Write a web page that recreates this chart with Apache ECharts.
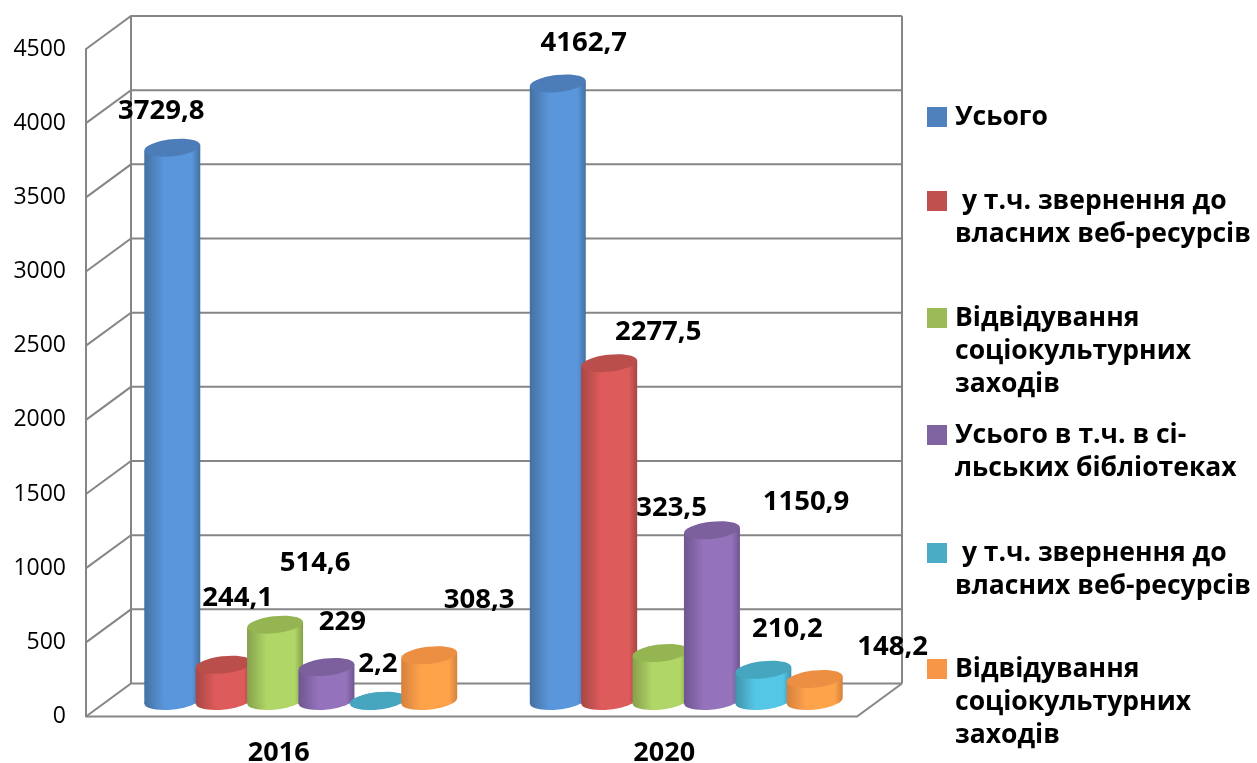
<!DOCTYPE html>
<html>
<head>
<meta charset="utf-8">
<title>ECharts</title>
<style>html,body{margin:0;background:#fff}</style>
</head>
<body>
<div id="main" style="width:1257px;height:763px"></div>
<script src="https://cdn.jsdelivr.net/npm/echarts@6/dist/echarts.min.js"></script>
<script type="text/javascript">
var years = ['2016', '2020'];
var yTicks = [0, 500, 1000, 1500, 2000, 2500, 3000, 3500, 4000, 4500];

// значення по роках
var total = [3729.8, 4162.7];
var ownWeb = [244.1, 2277.5];
var events = [514.6, 323.5];
var rural = [229, 1150.9];
var ruralWeb = [2.2, 210.2];
var ruralEvents = [308.3, 148.2];
var values = [total, ownWeb, events, rural, ruralWeb, ruralEvents];

// пробіл у кінці, щоб легенда не склеїла однакові назви
var names = [
    'Усього',
    ' у т.ч. звернення до\nвласних веб-ресурсів',
    'Відвідування\nсоціокультурних\nзаходів',
    'Усього в т.ч. в сі-\nльських бібліотеках',
    ' у т.ч. звернення до\nвласних веб-ресурсів ',
    'Відвідування\nсоціокультурних\nзаходів '
];

// кольори
var legendColors = ['#4f81bd', '#c0504d', '#9bbb59', '#8064a2', '#4bacc6', '#f79646'];
var bodyColors = ['#5a96dc', '#de5b5b', '#afd666', '#9572bc', '#54c6e6', '#ffa34b'];
var edgeColors = ['#44719f', '#a54744', '#86a04c', '#6e5690', '#4193aa', '#d4813c'];
var topColors = ['#4c7db8', '#b94e4b', '#95b553', '#7c609e', '#46a6c0', '#ec8f43'];

// зсув підпису від верху циліндра
var labelOffsets = [
    [[-11, -37], [26, -40]],
    [[14, -67], [49, -31]],
    [[40, -61], [11, -145]],
    [[16, -45], [94, -28]],
    [[0, -37], [24, -41]],
    [[50, -55], [78, -32]]
];
var legendCenters = [117, 201, 318, 435, 553, 669];

var lineColor = '#868686';
var depthX = 45, depthY = 33;   // глибина задньої стінки
var shiftX = 22, shiftY = 15.5; // циліндри стоять посеред підлоги
var radiusX = 28, radiusY = 8.5, tilt = 0.11;
var fontName = '"Open Sans"';
var legendLine = 33;

function renderWall(params, api) {
    var rect = params.coordSys;
    var tick = api.value(1);
    var y = api.coord([0, tick])[1];
    var x0 = rect.x, x1 = rect.x + rect.width;
    var style = {stroke: lineColor, lineWidth: 2, fill: null};
    var children = [{
        type: 'polyline',
        shape: {points: [[x0, y], [x0 + depthX, y - depthY], [x1 + depthX, y - depthY]]},
        style: style
    }];
    if (tick === 0) {
        // підлога і вертикалі стінок
        children.push({
            type: 'polyline',
            shape: {points: [[x0, y], [x1, y], [x1 + depthX, y - depthY]]},
            style: style
        });
        children.push({
            type: 'line',
            shape: {x1: x0 + depthX, y1: y - depthY, x2: x0 + depthX, y2: rect.y - depthY},
            style: style
        });
        children.push({
            type: 'line',
            shape: {x1: x1 + depthX, y1: y - depthY, x2: x1 + depthX, y2: rect.y - depthY},
            style: style
        });
    }
    return {type: 'group', children: children};
}

function makeCylinder(i) {
    return function (params, api) {
        var cat = api.value(0);
        var val = api.value(1);
        var band = api.size([1, 0])[0];
        var top = api.coord([cat, val]);
        var base = api.coord([cat, 0]);
        var cx = top[0] + (i - 2.5) * band * 0.1333 + shiftX;
        var topY = top[1] - shiftY;
        var baseY = base[1] - shiftY;
        var dy = radiusX * Math.sin(tilt);
        var fill = new echarts.graphic.LinearGradient(0, 0, 1, 0, [
            {offset: 0, color: edgeColors[i]},
            {offset: 0.35, color: bodyColors[i]},
            {offset: 0.85, color: bodyColors[i]},
            {offset: 1, color: edgeColors[i]}
        ]);
        var off = labelOffsets[i][cat];
        return {
            type: 'group',
            children: [{
                type: 'ellipse',
                shape: {cx: cx, cy: baseY, rx: radiusX, ry: radiusY},
                rotation: tilt, originX: cx, originY: baseY,
                style: {fill: val < 10 ? topColors[i] : fill}
            }, {
                type: 'polygon',
                shape: {points: [
                    [cx - radiusX, topY + dy], [cx + radiusX, topY - dy],
                    [cx + radiusX, baseY - dy], [cx - radiusX, baseY + dy]
                ]},
                style: {fill: fill}
            }, {
                type: 'ellipse',
                shape: {cx: cx, cy: topY, rx: radiusX, ry: radiusY},
                rotation: tilt, originX: cx, originY: topY,
                style: {fill: topColors[i]}
            }, {
                type: 'text',
                z2: 100,
                style: {
                    text: String(val).replace('.', ','),
                    x: cx + off[0], y: topY + off[1],
                    align: 'center', verticalAlign: 'middle',
                    fontFamily: fontName, fontWeight: 'bold', fontSize: 27.5, fill: '#000'
                }
            }]
        };
    };
}

var seriesList = [{
    name: 'walls',
    type: 'custom',
    silent: true,
    z: 1,
    renderItem: renderWall,
    encode: {x: 0, y: 1},
    data: yTicks.map(function (t) { return [0, t]; })
}];
values.forEach(function (arr, i) {
    seriesList.push({
        name: names[i],
        type: 'custom',
        z: 2 + i,
        itemStyle: {color: legendColors[i]},
        renderItem: makeCylinder(i),
        encode: {x: 0, y: 1},
        data: arr.map(function (v, k) { return [k, v]; })
    });
});

// порожні рядки зверху ставлять перший рядок тексту навпроти значка
var legends = names.map(function (n, i) {
    var lines = n.split('\n').length;
    return {
        data: [n],
        orient: 'vertical',
        left: 927,
        top: legendCenters[i] - (2 * lines - 1) * legendLine / 2,
        padding: 0,
        icon: 'rect',
        itemWidth: 20,
        itemHeight: 20,
        itemGap: 0,
        selectedMode: false,
        formatter: function (name) {
            return new Array(lines).join('\n') + name;
        },
        textStyle: {
            color: '#000', fontFamily: fontName, fontWeight: 'bold', fontSize: 26.5,
            lineHeight: legendLine, padding: [0, 0, 0, 3]
        }
    };
});

var myChart = echarts.init(document.getElementById('main'));
var option = {
    animation: false,
    backgroundColor: '#fff',
    legend: legends,
    grid: {left: 86, right: 400, top: 49, bottom: 46.5, outerBoundsMode: 'none'},
    xAxis: {
        type: 'category',
        data: years,
        axisLine: {show: false},
        axisTick: {show: false},
        splitLine: {show: false},
        axisLabel: {color: '#000', fontFamily: fontName, fontWeight: 'bold', fontSize: 27, margin: 23}
    },
    yAxis: {
        type: 'value',
        min: 0,
        max: 4500,
        interval: 500,
        axisLine: {show: true, lineStyle: {color: lineColor, width: 2}},
        axisTick: {show: false},
        splitLine: {show: false},
        axisLabel: {
            color: '#000', fontFamily: fontName, fontSize: 23, margin: 20,
            padding: [3, 0, 0, 0],
            formatter: function (v) { return String(v); }
        }
    },
    series: seriesList
};
myChart.setOption(option);
</script>
</body>
</html>
